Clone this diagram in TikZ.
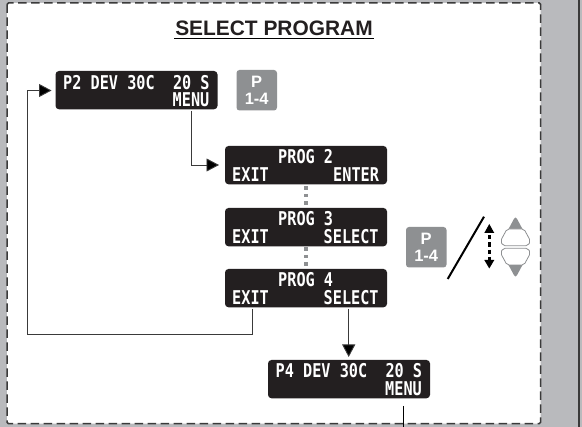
\documentclass[tikz,border=0pt]{standalone}
\usepackage{fontspec}
\setmainfont{Liberation Sans}
\newfontfamily\lcd[FakeStretch=0.8]{DejaVu Sans Mono}
\usetikzlibrary{arrows.meta}
\definecolor{panel}{HTML}{B9BABD}
\definecolor{lcdbg}{HTML}{231F20}
\definecolor{keyc}{HTML}{8E9092}
\definecolor{linec}{HTML}{3A3A3A}
\tikzset{
  x=1pt,y=-1pt,
  lcdbox/.style={rounded corners=3.5pt,fill=lcdbg,draw=none},
  lcdtext/.style={inner sep=0pt,text=white,font=\lcd\bfseries\fontsize{19}{19}\selectfont,anchor=base west},
  keybox/.style={rounded corners=3pt,fill=keyc,draw=none},
  keytext/.style={inner sep=0pt,text=white,font=\bfseries\fontsize{16.5}{16}\selectfont,anchor=base},
  conn/.style={draw=linec,line width=0.9pt},
  conntip/.style={conn,-{Triangle[length=12.5pt,width=13pt,fill=black]}},
  dotline/.style={draw=keyc,line width=3.5pt,dash pattern=on 3.5pt off 4pt},
}
\begin{document}
\begin{tikzpicture}
\useasboundingbox (0,0) rectangle (582,427);
\fill[panel] (0,0) rectangle (582,427);
\fill[white,rounded corners=1.5pt] (7,3) rectangle (540.7,423.7);
\draw[linec,line width=1.5pt,dash pattern=on 8.5pt off 4.5pt,rounded corners=1.5pt] (7,3) rectangle (540.7,423.7);
\draw[linec,line width=1.8pt] (579,0) -- (579,427);
\node[inner sep=0pt,anchor=base,font=\bfseries\fontsize{20.9}{21}\selectfont,text=lcdbg] (title) at (274,35.5) {SELECT PROGRAM};
\draw[black,line width=0.9pt] (174,38.5) -- (374,38.5);
% displays
\path[lcdbox] (55.5,71) rectangle (217.5,109.3);
\path[lcdbox] (225,146) rectangle (387,184.3);
\path[lcdbox] (225,208) rectangle (387,246.3);
\path[lcdbox] (225,269) rectangle (387,307.3);
\path[lcdbox] (268,360) rectangle (430,398.3);
\node[lcdtext] (t1) at (63,89.5) {P2 DEV 30C~~20 S};
\node[lcdtext] (t1b) at (172.5,107) {MENU};
\node[lcdtext] (t2) at (278,164) {PROG 2};
\node[lcdtext] (t2a) at (232,182) {EXIT};
\node[lcdtext] (t2b) at (333,182) {ENTER};
\node[lcdtext] (t3) at (278,226) {PROG 3};
\node[lcdtext] (t3a) at (232,244) {EXIT};
\node[lcdtext] (t3b) at (323.5,244) {SELECT};
\node[lcdtext] (t4) at (278,287) {PROG 4};
\node[lcdtext] (t4a) at (232,305) {EXIT};
\node[lcdtext] (t4b) at (323.5,305) {SELECT};
\node[lcdtext] (t5) at (275.5,378) {P4 DEV 30C~~20 S};
\node[lcdtext] (t5b) at (385,396) {MENU};
% keys
\path[keybox] (236.5,70) rectangle (277,110.5);
\node[keytext] (k1a) at (256.7,87.5) {P};
\node[keytext] (k1b) at (256.7,105) {1-4};
\path[keybox] (406,227) rectangle (446.5,267.5);
\node[keytext] (k2a) at (426.2,244.5) {P};
\node[keytext] (k2b) at (426.2,262) {1-4};
% dots
\draw[dotline] (306,186.5) -- (306,206);
\draw[dotline] (306,247.5) -- (306,267);
% connectors
\coordinate (a1) at (191,111);
\coordinate (a2) at (219,165);
\draw[conntip] (a1) |- (a2);
\coordinate (b1) at (252,309);
\coordinate (b2) at (27.5,334.5);
\coordinate (b3) at (51.5,90.5);
\draw[conntip] (b1) |- (b2) |- (b3);
\coordinate (c1) at (348.7,309);
\coordinate (c2) at (348.7,357);
\draw[conntip] (c1) -- (c2);
\coordinate (e1) at (403.7,406);
\coordinate (e2) at (403.7,427);
\draw[black,line width=1.4pt] (e1) -- (e2);
% slash and arrow
\coordinate (s1) at (447.7,279);
\coordinate (s2) at (484,216.7);
\draw[black,line width=2pt] (s1) -- (s2);
\fill[black] (489.3,224) -- (494.3,233) -- (484.3,233) -- cycle;
\fill[black] (489.3,268.5) -- (494.3,260) -- (484.3,260) -- cycle;
\draw[black,line width=3.6pt,dash pattern=on 4.5pt off 2.8pt] (489.3,235) -- (489.3,260);
% arrow buttons
\fill[keyc,rounded corners=3pt] (515.5,216) -- (530.5,244) -- (500.5,244) -- cycle;
\draw[keyc,fill=white,line width=0.8pt,rounded corners=2pt] (507,229) -- (524,229) -- (530.5,241) -- (528,245.7) -- (503,245.7) -- (500.5,241) -- cycle;
\fill[keyc,rounded corners=3pt] (515.5,278) -- (530.5,250) -- (500.5,250) -- cycle;
\draw[keyc,fill=white,line width=0.8pt,rounded corners=2pt] (507,265) -- (524,265) -- (530.5,253) -- (528,248.3) -- (503,248.3) -- (500.5,253) -- cycle;
\end{tikzpicture}
\end{document}
